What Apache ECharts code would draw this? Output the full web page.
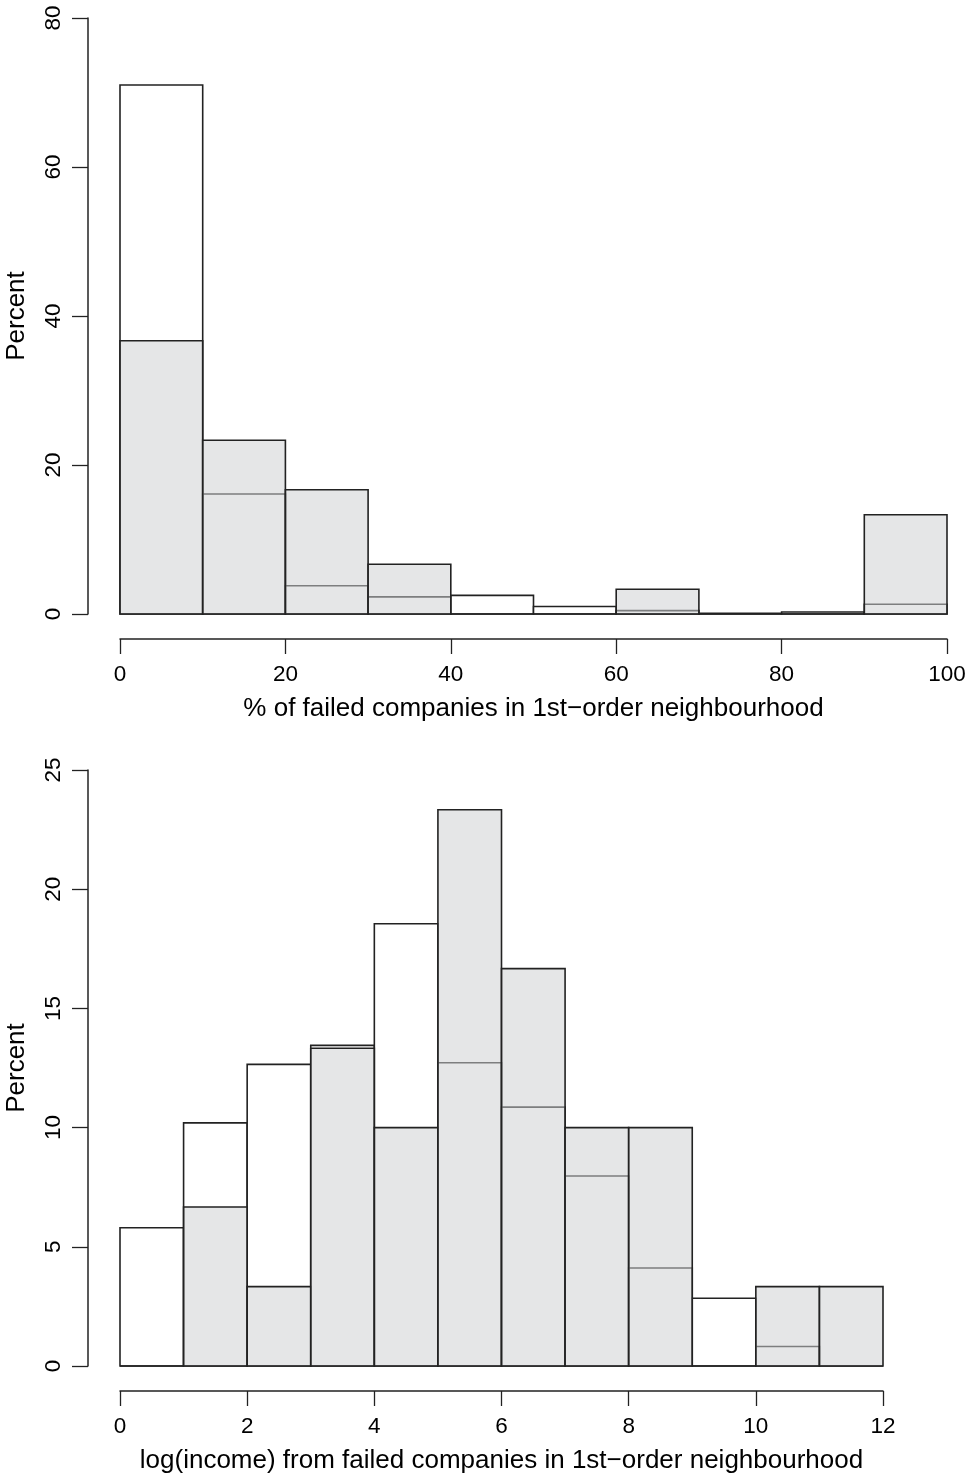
<!DOCTYPE html>
<html>
<head>
<meta charset="utf-8">
<script src="https://cdn.jsdelivr.net/npm/echarts@6/dist/echarts.min.js"></script>
<style>
  html, body { margin: 0; padding: 0; background: #fff; }
  #main { width: 969px; height: 1482px; }
</style>
</head>
<body>
<div id="main"></div>
<script>
// bin edges and percentages
var topEdges = [0, 10, 20, 30, 40, 50, 60, 70, 80, 90, 100];
var topWhite = [71.0, 16.1, 3.8, 2.3, 2.5, 1.0, 0.45, 0.1, 0.27, 1.3];
var topGrey = [36.67, 23.33, 16.67, 6.67, 0, 0, 3.33, 0, 0, 13.33];

var bottomEdges = [0, 1, 2, 3, 4, 5, 6, 7, 8, 9, 10, 11, 12];
var bottomWhite = [5.8, 10.2, 12.65, 13.45, 18.55, 12.72, 10.86, 7.97, 4.11, 2.84, 0.82, 0];
var bottomGrey = [0, 6.67, 3.33, 13.33, 10, 23.33, 16.67, 10, 10, 0, 3.33, 3.33];

var topTicks = { min: 0, max: 100, interval: 20 };
var bottomTicks = { min: 0, max: 12, interval: 2 };
var topPercent = { min: 0, max: 80, interval: 20 };
var bottomPercent = { min: 0, max: 25, interval: 5 };

var chartDom = document.getElementById('main');
var myChart = echarts.init(chartDom, null, { renderer: 'canvas' });

var font = 'Liberation Sans, Arial, Helvetica, sans-serif';
var ink = '#222';

function binData(edges, vals) {
  return vals.map(function (v, i) {
    return [edges[i], edges[i + 1], v];
  });
}

function histSeries(idx, data, fill) {
  return {
    type: 'custom',
    xAxisIndex: idx,
    yAxisIndex: idx,
    silent: true,
    animation: false,
    encode: { x: [0, 1], y: 2 },
    data: data,
    renderItem: function (params, api) {
      var p0 = api.coord([api.value(0), 0]);
      var p1 = api.coord([api.value(1), api.value(2)]);
      return {
        type: 'rect',
        shape: { x: p0[0], y: p1[1], width: p1[0] - p0[0], height: p0[1] - p1[1] },
        style: { fill: fill, stroke: ink, lineWidth: 1.6 }
      };
    }
  };
}

function xAxis(idx, t, name) {
  return {
    type: 'value',
    gridIndex: idx,
    min: t.min, max: t.max, interval: t.interval,
    offset: 25,
    name: name,
    nameLocation: 'middle',
    nameGap: 57,
    nameTextStyle: { fontFamily: font, fontSize: 26, color: '#000' },
    axisLine: { show: true, onZero: false, lineStyle: { color: ink, width: 1.5 } },
    axisTick: { show: true, length: 15, lineStyle: { color: ink, width: 1.3 } },
    axisLabel: { margin: 24, fontFamily: font, fontSize: 22.5, color: '#000' },
    splitLine: { show: false }
  };
}

function yAxis(idx, t) {
  return {
    type: 'value',
    gridIndex: idx,
    min: t.min, max: t.max, interval: t.interval,
    offset: 32,
    name: 'Percent',
    nameLocation: 'middle',
    nameGap: 58,
    nameRotate: 90,
    nameTextStyle: { fontFamily: font, fontSize: 26, color: '#000' },
    axisLine: { show: true, onZero: false, lineStyle: { color: ink, width: 1.5 } },
    axisTick: { show: true, length: 16, lineStyle: { color: ink, width: 1.3 } },
    axisLabel: { rotate: 90, margin: 22.5, fontFamily: font, fontSize: 22.5, color: '#000' },
    splitLine: { show: false }
  };
}

var option = {
  backgroundColor: '#fff',
  animation: false,
  grid: [
    { left: 120, right: 22, top: 18, height: 596, containLabel: false, outerBoundsMode: 'none' },
    { left: 120, right: 86, top: 770, height: 596, containLabel: false, outerBoundsMode: 'none' }
  ],
  xAxis: [
    xAxis(0, topTicks, '% of failed companies in 1st\u2212order neighbourhood'),
    xAxis(1, bottomTicks, 'log(income) from failed companies in 1st\u2212order neighbourhood')
  ],
  yAxis: [yAxis(0, topPercent), yAxis(1, bottomPercent)],
  series: [
    histSeries(0, binData(topEdges, topWhite), '#fff'),
    histSeries(0, binData(topEdges, topGrey), 'rgba(206,207,210,0.53)'),
    histSeries(1, binData(bottomEdges, bottomWhite), '#fff'),
    histSeries(1, binData(bottomEdges, bottomGrey), 'rgba(206,207,210,0.53)')
  ]
};

option && myChart.setOption(option);
window.addEventListener('resize', function () { myChart.resize(); });
</script>
</body>
</html>
